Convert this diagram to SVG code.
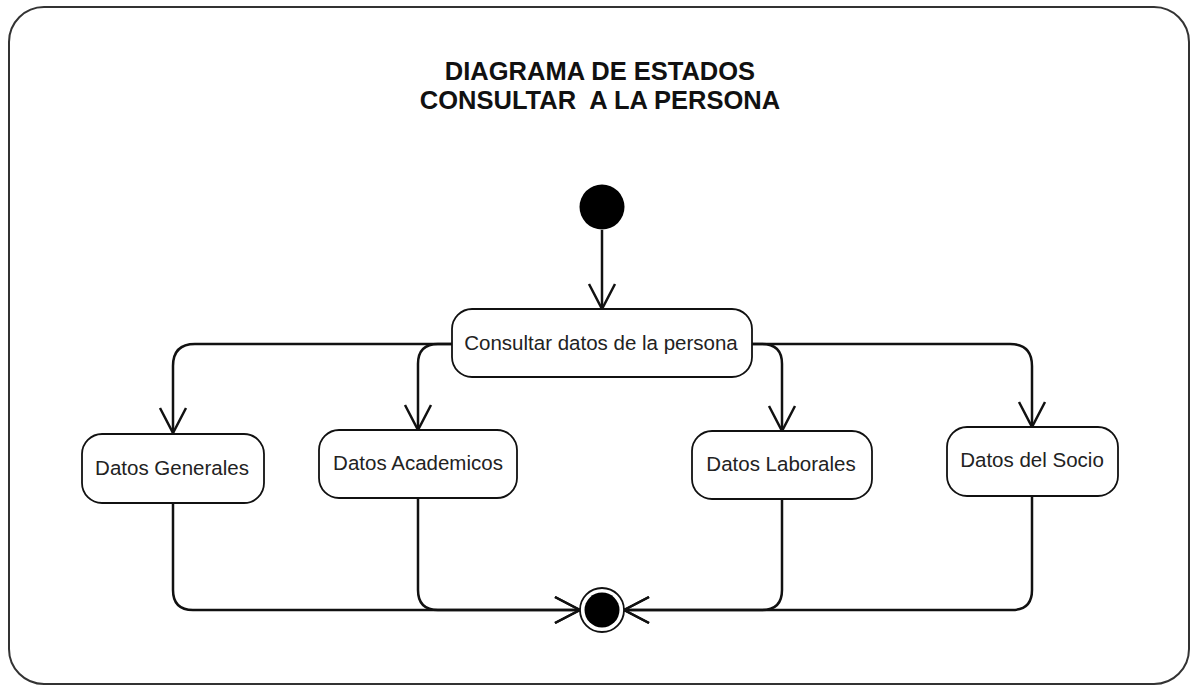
<svg xmlns="http://www.w3.org/2000/svg" width="1191" height="685" viewBox="0 0 1191 685">
<defs>
<style>
.title{font-family:"Liberation Sans",Arial,sans-serif;font-weight:bold;font-size:25.5px;fill:#111;text-anchor:middle}
.box{fill:#fff;stroke:#111;stroke-width:1.8}
.lbl{font-family:"Liberation Sans",Arial,sans-serif;font-size:20.5px;fill:#222;text-anchor:middle}
.conn{fill:none;stroke:#111;stroke-width:2.5}
</style>
<marker id="arr" markerUnits="userSpaceOnUse" viewBox="-28 -16 30 32" refX="0" refY="0" markerWidth="30" markerHeight="32" orient="auto">
<path d="M -25 -13 L 0 0 L -25 13" fill="none" stroke="#111" stroke-width="2.5"/>
</marker>
</defs>
<rect x="9" y="7" width="1180" height="677" rx="35" ry="35" fill="#fff" stroke="#333" stroke-width="2"/>
<g id="title">
<text class="title" x="600" y="80">DIAGRAMA DE ESTADOS</text>
<text class="title" x="600" y="109" xml:space="preserve">CONSULTAR  A LA PERSONA</text>
</g>
<g id="connectors">
<path class="conn" d="M 602 230 V 309" marker-end="url(#arr)"/>
<path class="conn" d="M 452 344 H 195 Q 173 344 173 366 V 433" marker-end="url(#arr)"/>
<path class="conn" d="M 452 344 H 438 Q 418 344 418 364 V 430" marker-end="url(#arr)"/>
<path class="conn" d="M 752 344 H 762 Q 782 344 782 364 V 431" marker-end="url(#arr)"/>
<path class="conn" d="M 752 344 H 1010 Q 1032 344 1032 366 V 427" marker-end="url(#arr)"/>
<path class="conn" d="M 173 503 V 590 Q 173 610 193 610 H 580" marker-end="url(#arr)"/>
<path class="conn" d="M 418 498 V 590 Q 418 610 438 610 H 580" marker-end="url(#arr)"/>
<path class="conn" d="M 782 499 V 590 Q 782 610 762 610 H 624" marker-end="url(#arr)"/>
<path class="conn" d="M 1032 496 V 590 Q 1032 610 1012 610 H 624" marker-end="url(#arr)"/>
</g>
<g id="initial">
<circle cx="602" cy="207" r="22.5" fill="#000"/>
</g>
<g id="consultar">
<rect class="box" x="452" y="309" width="300" height="68" rx="20" ry="20"/>
<text class="lbl" x="601" y="350">Consultar datos de la persona</text>
</g>
<g id="generales">
<rect class="box" x="82" y="434" width="182" height="69" rx="20" ry="20"/>
<text class="lbl" x="172" y="475">Datos Generales</text>
</g>
<g id="academicos">
<rect class="box" x="319" y="430" width="198" height="68" rx="20" ry="20"/>
<text class="lbl" x="418" y="470">Datos Academicos</text>
</g>
<g id="laborales">
<rect class="box" x="692" y="431" width="180" height="68" rx="20" ry="20"/>
<text class="lbl" x="781" y="471">Datos Laborales</text>
</g>
<g id="socio">
<rect class="box" x="947" y="427" width="171" height="69" rx="20" ry="20"/>
<text class="lbl" x="1032" y="467">Datos del Socio</text>
</g>
<g id="final">
<circle cx="602" cy="610" r="22" fill="#fff" stroke="#111" stroke-width="1.8"/>
<circle cx="602" cy="610" r="17.5" fill="#000"/>
</g>
</svg>
